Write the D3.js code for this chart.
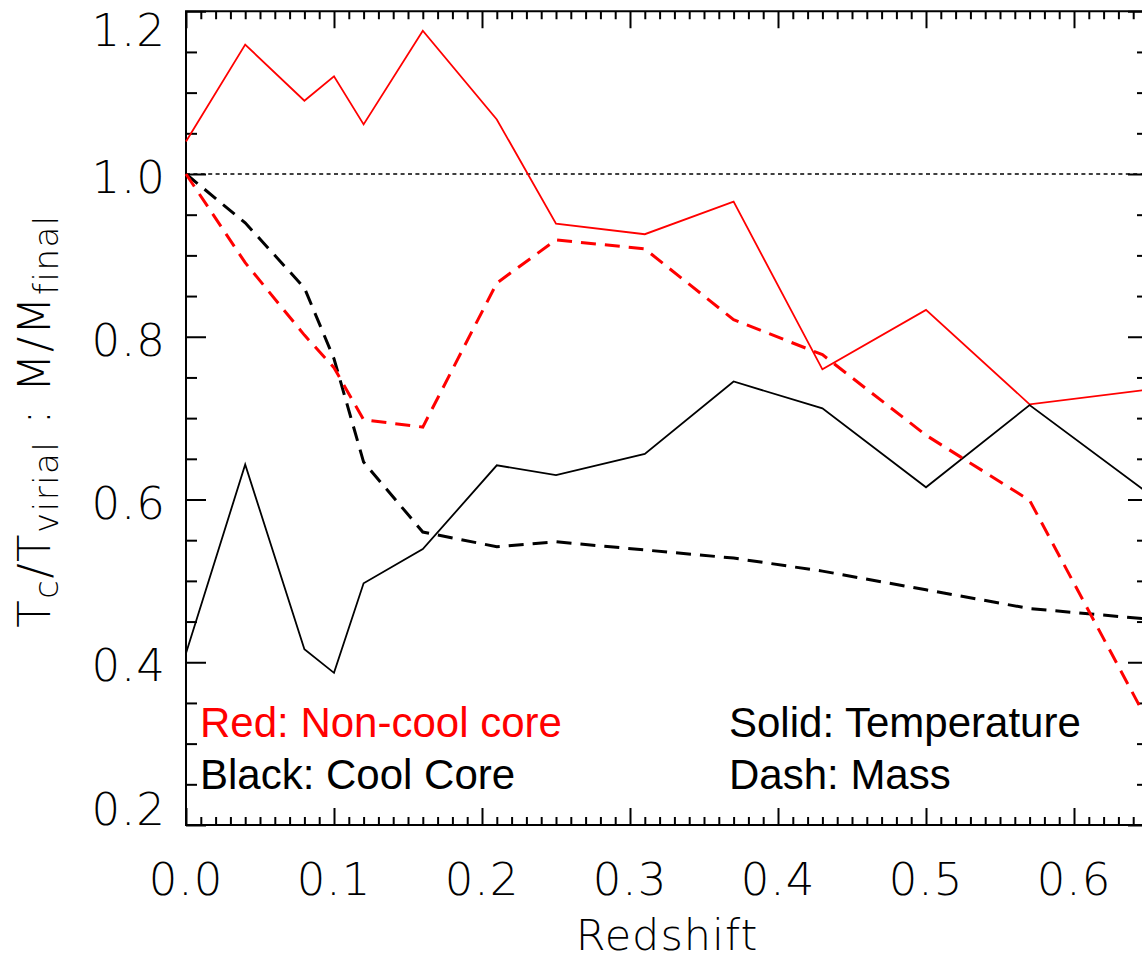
<!DOCTYPE html>
<html>
<head>
<meta charset="utf-8">
<script src="https://cdn.jsdelivr.net/npm/d3@7"></script>
<style>
  html, body { margin: 0; padding: 0; background: #fff; }
  svg { display: block; }
  .thin { font-family: "DejaVu Sans", sans-serif; font-weight: 200; fill: #000; }
  .legend { font-family: "Liberation Sans", Arial, sans-serif; font-size: 42px; }
</style>
</head>
<body>
<svg id="chart" width="1142" height="959"></svg>
<script>
// Redshift sample points
const redshift = [0, 0.04, 0.08, 0.10, 0.12, 0.16, 0.21, 0.25, 0.31, 0.37, 0.43, 0.50, 0.57, 0.65];
// Non-cool core cluster: core temperature / virial temperature
const nccTemp = [1.040, 1.159, 1.090, 1.120, 1.061, 1.176, 1.067, 0.939, 0.926, 0.966, 0.760, 0.833, 0.717, 0.735];
// Non-cool core cluster: mass / final mass
const nccMass = [1.000, 0.891, 0.802, 0.762, 0.698, 0.689, 0.866, 0.919, 0.908, 0.821, 0.778, 0.679, 0.599, 0.327];
// Cool core cluster: core temperature / virial temperature
const ccTemp = [0.411, 0.643, 0.416, 0.387, 0.497, 0.539, 0.642, 0.630, 0.656, 0.745, 0.712, 0.615, 0.716, 0.608];
// Cool core cluster: mass / final mass
const ccMass = [1.000, 0.940, 0.860, 0.773, 0.646, 0.560, 0.542, 0.548, 0.538, 0.528, 0.512, 0.489, 0.466, 0.453];

const xMajor = [0, 0.1, 0.2, 0.3, 0.4, 0.5, 0.6];
const xLabels = ["0.0", "0.1", "0.2", "0.3", "0.4", "0.5", "0.6"];
const yMajor = [0.2, 0.4, 0.6, 0.8, 1.0, 1.2];
const yLabels = ["0.2", "0.4", "0.6", "0.8", "1.0", "1.2"];

const svg = d3.select("#chart");
const L = 186, R = 1148, T = 11.25, B = 825;

const x = d3.scaleLinear().domain([0, 0.65]).range([L, R]);
const y = d3.scaleLinear().domain([0.2, 1.2]).range([B, T]);

const xMinor = d3.range(0, 66).map(i => +(i * 0.01).toFixed(2)).filter(v => !xMajor.includes(v));
const yMinor = d3.range(0, 21).map(i => +(0.2 + i * 0.05).toFixed(2)).filter(v => !yMajor.includes(v));

// Axis ticks, all pointing into the plot box
function tickAxis(gen, vals, size, tx, ty) {
  const g = svg.append("g")
    .attr("transform", `translate(${tx},${ty})`)
    .call(gen.tickValues(vals).tickSizeInner(size).tickSizeOuter(0).tickFormat(""));
  g.select(".domain").remove();
  g.selectAll(".tick line").attr("stroke", "#000").attr("stroke-width", 2);
}
tickAxis(d3.axisTop(x), xMajor, 17, 0, B);
tickAxis(d3.axisTop(x), xMinor, 8, 0, B);
tickAxis(d3.axisBottom(x), xMajor, 17, 0, T);
tickAxis(d3.axisBottom(x), xMinor, 8, 0, T);
tickAxis(d3.axisRight(y), yMajor, 20, L, 0);
tickAxis(d3.axisRight(y), yMinor, 11, L, 0);
tickAxis(d3.axisLeft(y), yMajor, 20, R, 0);
tickAxis(d3.axisLeft(y), yMinor, 11, R, 0);

// Plot frame
svg.append("rect")
  .attr("x", L).attr("y", T).attr("width", R - L).attr("height", B - T)
  .attr("fill", "none").attr("stroke", "#000").attr("stroke-width", 2);

// Reference level at 1.0
svg.append("line")
  .attr("x1", x(0)).attr("x2", x(0.65)).attr("y1", y(1.0)).attr("y2", y(1.0))
  .attr("stroke", "#000").attr("stroke-width", 1.6).attr("stroke-dasharray", "4,3.4");

const line = d3.line().x(d => x(d[0])).y(d => y(d[1]));
const series = [
  { vals: nccTemp, color: "#ff0000", width: 1.8, dash: null },
  { vals: ccTemp, color: "#000000", width: 1.8, dash: null },
  { vals: ccMass, color: "#000000", width: 3, dash: "15,9" },
  { vals: nccMass, color: "#ff0000", width: 3, dash: "15,9" }
];
series.forEach(s => {
  svg.append("path")
    .datum(redshift.map((z, i) => [z, s.vals[i]]))
    .attr("d", line)
    .attr("fill", "none")
    .attr("stroke", s.color)
    .attr("stroke-width", s.width)
    .attr("stroke-linejoin", "miter")
    .attr("stroke-dasharray", s.dash);
});

// Tick labels
svg.append("g").selectAll("text").data(xMajor).join("text")
  .attr("class", "thin")
  .attr("x", d => x(d)).attr("y", 895)
  .attr("text-anchor", "middle")
  .attr("font-size", 45)
  .attr("letter-spacing", 1)
  .text((d, i) => xLabels[i]);

svg.append("g").selectAll("text").data(yMajor).join("text")
  .attr("class", "thin")
  .attr("x", 166)
  .attr("y", d => Math.max(46, Math.min(B, y(d) + 19)))
  .attr("text-anchor", "end")
  .attr("font-size", 45)
  .attr("letter-spacing", 1)
  .text((d, i) => yLabels[i]);

// Axis titles
svg.append("text")
  .attr("class", "thin")
  .attr("x", (L + R) / 2).attr("y", 950)
  .attr("text-anchor", "middle")
  .attr("font-size", 43)
  .attr("letter-spacing", 1)
  .text("Redshift");

const yt = svg.append("text")
  .attr("class", "thin")
  .attr("transform", "translate(50,421) rotate(-90)")
  .attr("text-anchor", "middle")
  .attr("font-size", 45)
  .attr("letter-spacing", 1.5);
const parts = [
  ["T", false], ["c", true], ["/", false], ["T", false], ["virial", true],
  [" : ", false], ["M", false], ["/", false], ["M", false], ["final", true]
];
let sub = false;
parts.forEach(([t, isSub]) => {
  const ts = yt.append("tspan").text(t);
  if (isSub && !sub) ts.attr("dy", 8);
  if (!isSub && sub) ts.attr("dy", -8);
  if (isSub) ts.attr("font-size", 34);
  sub = isSub;
});

// Legend notes
svg.append("text").attr("class", "legend").attr("x", 200).attr("y", 737)
  .attr("fill", "#ff0000").text("Red: Non-cool core");
svg.append("text").attr("class", "legend").attr("x", 200).attr("y", 789)
  .attr("fill", "#000").text("Black: Cool Core");
svg.append("text").attr("class", "legend").attr("x", 729).attr("y", 737)
  .attr("fill", "#000").text("Solid: Temperature");
svg.append("text").attr("class", "legend").attr("x", 729).attr("y", 789)
  .attr("fill", "#000").text("Dash: Mass");
</script>
</body>
</html>
